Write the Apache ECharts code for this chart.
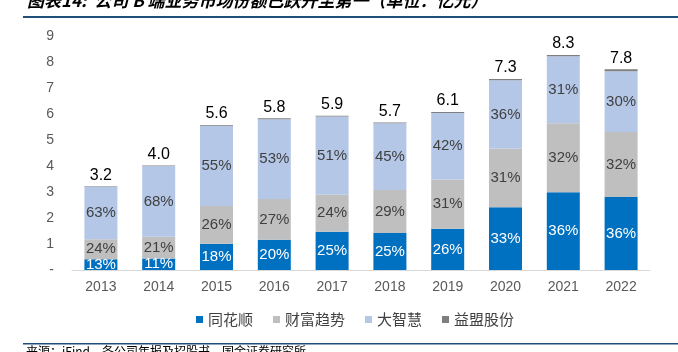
<!DOCTYPE html>
<html><head><meta charset="utf-8">
<script src="https://cdn.jsdelivr.net/npm/echarts@6/dist/echarts.min.js"></script>
<style>html,body{margin:0;padding:0;background:#fff}#c{width:678px;height:352px}</style>
</head><body><div id="c"></div>
<script>
const years = ['2013','2014','2015','2016','2017','2018','2019','2020','2021','2022'];
const totals = [3.2,4.0,5.6,5.8,5.9,5.7,6.1,7.3,8.3,7.8];
const thsPct = [13,11,18,20,25,25,26,33,36,36];
const cfqsPct = [24,21,26,27,24,29,31,31,32,32];
const dzhPct = [63,68,55,53,51,45,42,36,31,30];
const ymPct = [0.6,0.6,0.6,0.6,0.6,0.6,0.6,0.6,0.6,1];
const yTicks = ['-','1','2','3','4','5','6','7','8','9'];
const names = ['同花顺','财富趋势','大智慧','益盟股份'];
const colors = ['#0070C0','#BFBFBF','#B4C7E7','#7F7F7F'];

const pcts = [thsPct, cfqsPct, dzhPct, ymPct];
const font = 'Liberation Sans, Arial, sans-serif';
const series = pcts.map((arr, si) => ({
  name: names[si], type: 'bar', stack: 'a', barWidth: 33,
  itemStyle: {color: colors[si]},
  data: arr.map((p, i) => +(totals[i] * p / 100).toFixed(4)),
  label: si < 3 ? {
    show: true, position: 'inside', fontFamily: font, fontSize: 15,
    color: si === 0 ? '#fff' : '#404040',
    formatter: (d) => arr[d.dataIndex] + '%'
  } : {
    show: true, position: 'top', distance: 3, fontFamily: font, fontSize: 16,
    color: '#000', formatter: (d) => totals[d.dataIndex].toFixed(1)
  }
}));

const chart = echarts.init(document.getElementById('c'));
chart.setOption({
  animation: false,
  grid: {left: 72, right: 28, top: 36, bottom: 82},
  xAxis: {type: 'category', data: years,
    axisLine: {lineStyle: {color: '#D9D9D9'}}, axisTick: {show: false},
    axisLabel: {fontFamily: font, fontSize: 14, color: '#595959', margin: 10}},
  yAxis: {type: 'value', min: 0, max: 9, interval: 1, splitLine: {show: false},
    axisLine: {show: false}, axisTick: {show: false},
    axisLabel: {fontFamily: font, fontSize: 14, color: '#595959', margin: 18,
      formatter: (v) => yTicks[Math.round(v)]}},
  legend: {bottom: 20, left: 191, itemWidth: 7, itemHeight: 7, itemGap: 20, icon: 'rect',
    textStyle: {fontFamily: 'Noto Sans CJK SC', fontSize: 15, color: '#404040'},
    data: names},
  graphic: [
    {type: 'text', left: 27, top: -8, style: {text: '图表14:  公司 B 端业务市场份额已跃升至第一（单位：亿元）',
      font: 'italic bold 17px "Noto Sans CJK SC"', fill: '#000'}},
    {type: 'rect', shape: {x: 23, y: 16, width: 655, height: 2}, style: {fill: '#1F4E79'}},
    {type: 'rect', shape: {x: 23, y: 343, width: 655, height: 1.5}, style: {fill: '#1F4E79'}},
    {type: 'text', left: 26, top: 345, style: {text: '来源：iFind，各公司年报及招股书，国金证券研究所',
      font: '12px "Noto Sans CJK SC"', fill: '#000'}}
  ],
  series: series
});
</script></body></html>
